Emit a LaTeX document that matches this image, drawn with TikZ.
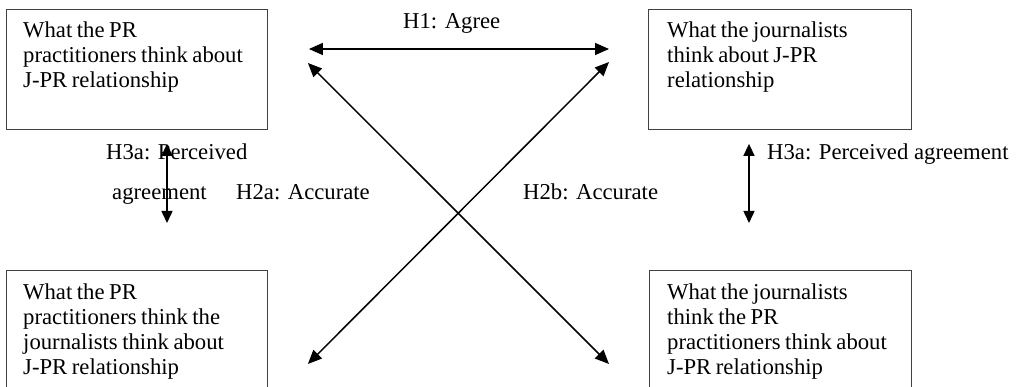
\documentclass[tikz,border=0pt]{standalone}
\usepackage{fontspec}
\setmainfont{Liberation Serif}
\newfontfamily\tightserif{Liberation Serif}[WordSpace={0.8,0.3,0.3}]
\usetikzlibrary{arrows.meta,calc}
\tikzset{
  box/.style={draw=black!75, line width=0.9pt, minimum width=#1, anchor=north west, inner sep=0pt},
  boxtext/.style={anchor=base west, inner sep=0pt, text width=250pt, align=flush left,
    font={\tightserif\fontsize{22.7}{25}\selectfont}},
  lbl/.style={anchor=base west, inner sep=0pt},
  conn/.style={line width=1.5pt, {Triangle[length=14pt,width=12pt]}-{Triangle[length=14pt,width=12pt]}},
  vconn/.style={line width=1.5pt, {Triangle[length=12pt,width=11pt]}-{Triangle[length=12pt,width=11pt]}}
}
\begin{document}
\begin{tikzpicture}[x=1pt,y=-1pt,font={\fontsize{22.7}{25}\selectfont}]
\useasboundingbox (0,0) rectangle (1021,387);
\clip (0,0) rectangle (1021,387);
% boxes
\node[box=261pt, minimum height=120pt] (tl) at (6,9) {};
\node[box=263pt, minimum height=120pt] (tr) at (648,9) {};
\node[box=261pt, minimum height=140pt] (bl) at (6,270) {};
\node[box=262pt, minimum height=140pt] (br) at (649,270) {};
% box texts
\node[boxtext] (tlt) at ($(tl.north west)+(17,29)$) {What the PR\\practitioners think about\\J-PR relationship};
\node[boxtext] (trt) at ($(tr.north west)+(19,29)$) {What the journalists\\think about J-PR\\relationship};
\node[boxtext] (blt) at ($(bl.north west)+(17,30)$) {What the PR\\practitioners think the\\journalists think about\\J-PR relationship};
\node[boxtext] (brt) at ($(br.north west)+(18,30)$) {What the journalists\\think the PR\\practitioners think about\\J-PR relationship};
% connectors
\draw[conn] ($(tl.north east)+(41,40)$) -- ($(tr.north west)+(-39,40)$);
\draw[conn] ($(tl.north east)+(40,54)$) -- ($(br.north west)+(-40,94)$);
\draw[conn] ($(bl.north east)+(40,94)$) -- ($(tr.north west)+(-39,53)$);
\draw[vconn] ($(tl.south west)+(161,14)$) -- ($(bl.north west)+(161,-47)$);
\draw[vconn] ($(tr.south west)+(101,14)$) -- ($(br.north west)+(100,-47)$);
% labels
\node[lbl] (h1) at (403,29) {H1: Agree};
\node[lbl] (h3al1) at (106,160) {H3a: Perceived};
\node[lbl] (h3al2) at (112,200) {agreement};
\node[lbl] (h2a) at (236,200) {H2a: Accurate};
\node[lbl] (h2b) at (523,200) {H2b: Accurate};
\node[lbl] (h3ar) at (767,160) {H3a: Perceived agreement};
\end{tikzpicture}
\end{document}
